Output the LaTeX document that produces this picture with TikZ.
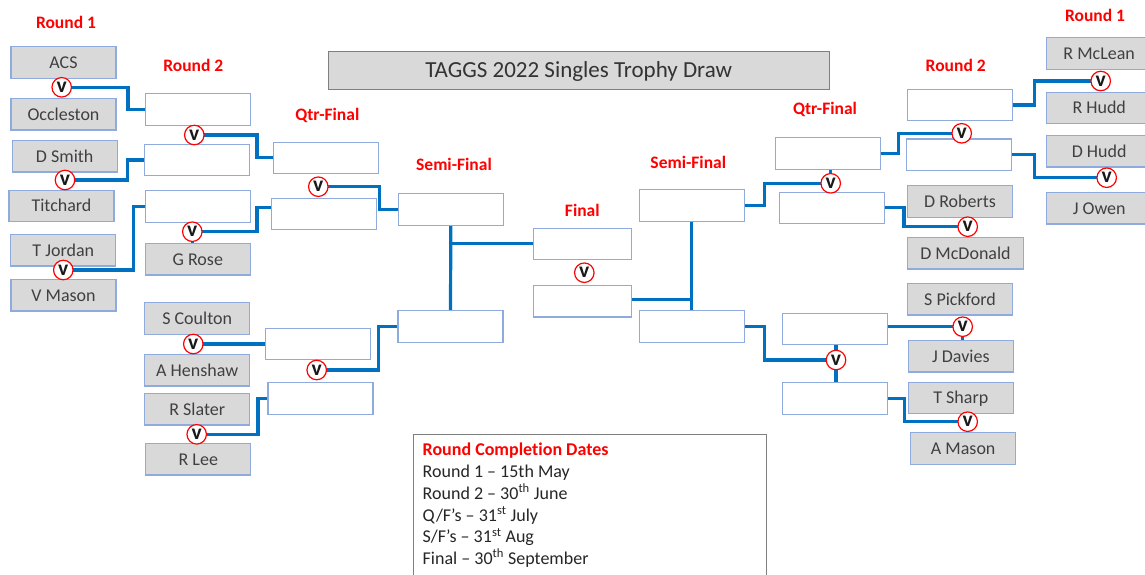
\documentclass[tikz,border=0pt]{standalone}
\usepackage{fontspec}
\setmainfont{Carlito}[Ligatures=NoCommon]
\usetikzlibrary{backgrounds,calc}
\definecolor{linkblue}{RGB}{0,112,192}
\definecolor{boxline}{RGB}{143,170,220}
\definecolor{boxfill}{RGB}{217,217,217}
\definecolor{nametext}{RGB}{64,64,64}
\definecolor{titleline}{RGB}{127,127,127}
\definecolor{lblred}{RGB}{255,0,0}
\begin{document}
\begin{tikzpicture}[x=1pt,y=-1pt,
 every node/.style={inner sep=0pt, outer sep=0pt},
 basebox/.style={draw=boxline, line width=1.1pt, minimum width=105pt, minimum height=31.5pt, text height=11.6pt, text depth=0pt, font=\fontsize{18}{18}\selectfont, text=nametext},
 gbox/.style={basebox, fill=boxfill},
 wbox/.style={basebox, fill=white},
 vc/.style={circle, draw=lblred, fill=white, line width=1.2pt, minimum size=19.5pt, text height=10pt, text depth=0pt, font=\fontsize{21.5}{21.5}\selectfont\bfseries, text=black!90},
 conn/.style={draw=linkblue, line width=3.2pt},
 rlbl/.style={text=lblred, font=\fontsize{17.5}{17.5}\selectfont\bfseries, text height=11.3pt, text depth=0pt},
 dtext/.style={anchor=base west, font=\fontsize{18}{18}\selectfont, text=black!85}
]
\useasboundingbox (0,0) rectangle (1145,574);

% labels
\node[rlbl] (lr1) at (66,22.5) {Round 1};
\node[rlbl] (lr2) at (193.3,65.7) {Round 2};
\node[rlbl] (lqf) at (327.3,115) {Qtr-Final};
\node[rlbl] (lsf) at (454,165) {Semi-Final};
\node[rlbl] (lfi) at (582.3,210.7) {Final};
\node[rlbl] (rsf) at (688.3,162.7) {Semi-Final};
\node[rlbl] (rqf) at (825,109.3) {Qtr-Final};
\node[rlbl] (rr2) at (955.7,65.7) {Round 2};
\node[rlbl] (rr1) at (1095,16) {Round 1};

% title
\node[draw=titleline, fill=boxfill, line width=1pt, minimum width=500.7pt, minimum height=37.6pt, font=\fontsize{23}{23}\selectfont, text=black!80, text height=14.6pt, text depth=0pt] (title) at (578.7,70.5) {TAGGS 2022 Singles Trophy Draw};

% left round 1
\node[gbox] (acs) at (63.5,62.5) {ACS};
\node[gbox] (occ) at (63.5,114.2) {Occleston};
\node[gbox] (dsm) at (64.7,156.2) {D Smith};
\node[gbox] (tit) at (61.5,206) {Titchard};
\node[gbox] (tjo) at (63.3,250.2) {T Jordan};
\node[gbox] (vma) at (63.5,295.2) {V Mason};

% left round 2
\node[wbox] (l2a) at (197.8,109.5) {};
\node[wbox] (l2b) at (197.2,160) {};
\node[wbox] (l2c) at (197.8,206.3) {};
\node[gbox] (gro) at (197.8,259.2) {G Rose};
\node[gbox] (sco) at (197.2,318.5) {S Coulton};
\node[gbox] (ahe) at (197.2,370.2) {A Henshaw};
\node[gbox] (rsl) at (197.2,409.2) {R Slater};
\node[gbox] (rle) at (198.3,459.2) {R Lee};

% left quarter finals
\node[wbox] (lq1) at (325.8,157.8) {};
\node[wbox] (lq2) at (324.3,213.8) {};
\node[wbox] (lq3) at (317.8,343.8) {};
\node[wbox] (lq4) at (320.5,398.3) {};

% semi finals and final
\node[wbox] (ls1) at (450.8,209.5) {};
\node[wbox] (ls2) at (450.5,326.3) {};
\node[wbox, minimum width=98.4pt] (f1) at (582.5,243.8) {};
\node[wbox, minimum width=98.4pt] (f2) at (582.5,301.2) {};
\node[wbox] (rs1) at (691.8,205.5) {};
\node[wbox] (rs2) at (691.8,326.3) {};

% right quarter finals
\node[wbox] (rq1) at (828.3,153.3) {};
\node[wbox] (rq2) at (832.2,207.8) {};
\node[wbox] (rq3) at (835.2,329) {};
\node[wbox] (rq4) at (835.2,398.3) {};

% right round 2
\node[wbox] (r2a) at (960,105) {};
\node[wbox] (r2b) at (959.2,154.7) {};
\node[gbox] (dro) at (960,201.3) {D Roberts};
\node[gbox, minimum width=115.6pt] (dmc) at (965.5,253.2) {D McDonald};
\node[gbox] (spi) at (960,299.2) {S Pickford};
\node[gbox] (jda) at (960.8,356.2) {J Davies};
\node[gbox] (tsh) at (960.8,397.8) {T Sharp};
\node[gbox] (ama) at (963.2,448.3) {A Mason};

% right round 1
\node[gbox] (rmc) at (1099.2,53.3) {R McLean};
\node[gbox] (rhu) at (1099.2,107.8) {R Hudd};
\node[gbox] (dhu) at (1099.2,151.2) {D Hudd};
\node[gbox] (jow) at (1099.2,208.2) {J Owen};

% v circles
\node[vc] (v1) at (61.7,87.3) {v};
\node[vc] (v2) at (65,180) {v};
\node[vc] (v3) at (63.3,270) {v};
\node[vc] (v4) at (194.3,135) {v};
\node[vc] (v5) at (192.3,231.7) {v};
\node[vc] (v6) at (193.3,344) {v};
\node[vc] (v7) at (196.7,434.3) {v};
\node[vc] (v8) at (318.3,186.7) {v};
\node[vc] (v9) at (316.7,370) {v};
\node[vc] (vf) at (584.3,272.7) {v};
\node[vc] (v10) at (830.7,183.3) {v};
\node[vc] (v11) at (836,360) {v};
\node[vc] (v12) at (961.7,133.3) {v};
\node[vc] (v13) at (967.7,226.7) {v};
\node[vc] (v14) at (962.7,326.7) {v};
\node[vc] (v15) at (967.7,421.7) {v};
\node[vc] (v16) at (1100.7,81) {v};
\node[vc] (v17) at (1106.7,177.7) {v};

% dates box
\node[draw=titleline, line width=1pt, minimum width=353.4pt, minimum height=160pt, anchor=north west] (dates) at (413.3,434) {};
\node[dtext, font=\fontsize{18}{18}\selectfont\bfseries, text=lblred] (d0) at (422.7,455.7) {Round Completion Dates};
\node[dtext] (d1) at (422.7,477.3) {Round 1 – 15th May};
\node[dtext] (d2) at (422.7,499) {Round 2 – 30\textsuperscript{th} June};
\node[dtext] (d3) at (422.7,521) {Q/F’s – 31\textsuperscript{st} July};
\node[dtext] (d4) at (422.7,542.7) {S/F’s – 31\textsuperscript{st} Aug};
\node[dtext] (d5) at (422.7,564) {Final – 30\textsuperscript{th} September};

\begin{pgfonlayer}{background}
\fill[white] (0,0) rectangle (1145,574);
% left side
\draw[conn] (v1.east) -- ++(56.5,0) |- (l2a.west);
\draw[conn] (v2.east) -- ++(52.5,0) |- (l2b.west);
\draw[conn] (v3.east) -- ++(60.5,0) |- (l2c.west);
\draw[conn] (v4.east) -- ++(52.9,0) |- (lq1.west);
\draw[conn] (v5.east) -- ++(54.9,0) |- ([yshift=6.5pt]lq2.west);
\draw[conn] (v6.east) -- (v6.east -| lq3.west);
\draw[conn] (v7.east) -- ++(51.5,0) |- (lq4.west);
\draw[conn] (v8.east) -- ++(51.2,0) |- (ls1.west);
\draw[conn] (v9.east) -- ++(52.1,0) |- (ls2.west);
\draw[conn] (ls1.south) -- (ls2.north);
\draw[conn] (ls1.south |- f1.west) -- (f1.west);
\draw[conn] (v5.south) -- (v5.south |- gro.north);
% right side
\draw[conn] (rs1.south) -- (rs2.north);
\draw[conn] ([yshift=2pt]f2.east) -- ([yshift=2pt]f2.east -| rs1.south);
\draw[conn] (rs1.east) -- ++(20,0) |- (v10.west);
\draw[conn] (rs2.east) -- ++(20,0) |- (v11.west);
\draw[conn] (rq1.east) -- ++(17.6,0) |- (v12.west);
\draw[conn] (rq2.east) -- ++(19.3,0) |- (v13.west);
\draw[conn] (v14.west -| rq3.east) -- (v14.west);
\draw[conn] (rq4.east) -- ++(16.6,0) |- (v15.west);
\draw[conn] (r2a.east) -- ++(21.7,0) |- (v16.west);
\draw[conn] (r2b.east) -- ++(22.7,0) |- (v17.west);
\draw[conn] (v10.north) -- (v10.north |- rq1.south);
\draw[conn] (v11 |- rq3.south) -- (v11 |- rq4.north);
\draw[conn] (v14.south) -- (v14.south |- jda.north);
\end{pgfonlayer}
\end{tikzpicture}
\end{document}
